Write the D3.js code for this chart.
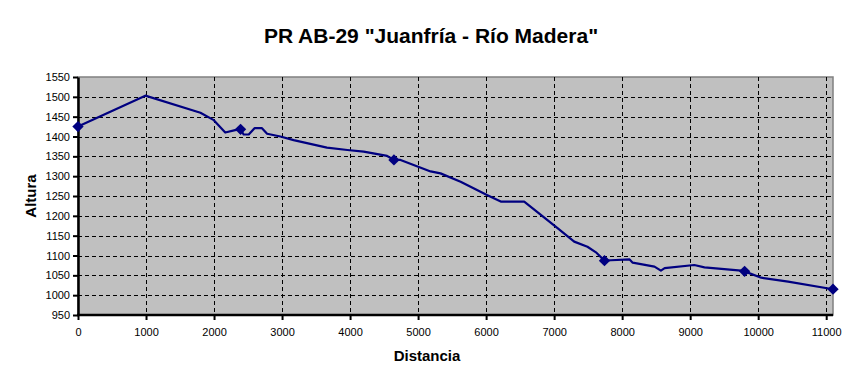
<!DOCTYPE html>
<html>
<head>
<meta charset="utf-8">
<script src="https://cdn.jsdelivr.net/npm/d3@7"></script>
<style>
  body { margin: 0; background: #fff; }
  text { font-family: "Liberation Sans", Arial, sans-serif; }
</style>
</head>
<body>
<div id="chart"></div>
<script>

// perfil: distancia (m) / altura (m)
const distancia = [0, 990, 1800, 1990, 2165, 2310, 2390, 2435, 2510, 2595, 2705, 2780, 2975, 3170,
  3660, 3960, 4200, 4545, 4645, 4742, 5184, 5330, 5625, 6020, 6215, 6560, 7050, 7295, 7490,
  7615, 7740, 7835, 8110, 8155, 8475, 8570, 8625, 9060, 9210, 9750, 9800, 10045, 10440, 11100]
const altura = [1425, 1503, 1460, 1442, 1410, 1416, 1418, 1405, 1405, 1421, 1421, 1407, 1400, 1391,
  1372, 1366, 1362, 1351, 1341, 1341, 1312, 1307, 1286, 1252, 1236, 1236, 1169, 1135, 1122,
  1108, 1087, 1088, 1090, 1082, 1072, 1062, 1068, 1076, 1070, 1062, 1060, 1044, 1034, 1015]

// puntos marcados
const puntoDist = [0, 2390, 4645, 7740, 9800, 11100]
const puntoAlt = [1425, 1418, 1341, 1087, 1060, 1015]

const xTicks = [0, 1000, 2000, 3000, 4000, 5000, 6000, 7000, 8000, 9000, 10000, 11000]
const yTicks = [950, 1000, 1050, 1100, 1150, 1200, 1250, 1300, 1350, 1400, 1450, 1500, 1550]

const titulo = 'PR AB-29 "Juanfría - Río Madera"'

let dim = {width: 864, height: 386}
let plot = {left: 78, right: 833, top: 77, bottom: 315}

let svg = d3.select('#chart').append('svg')
    .attr('width', dim.width)
    .attr('height', dim.height)

let x = d3.scaleLinear()
    .domain([0, d3.max(distancia)])
    .range([plot.left, plot.right])

let y = d3.scaleLinear()
    .domain([950, 1550])
    .range([plot.bottom, plot.top])

// fondo gris
svg.append('rect')
    .attr('x', plot.left)
    .attr('y', plot.top)
    .attr('width', plot.right - plot.left)
    .attr('height', plot.bottom - plot.top)
    .attr('fill', '#c0c0c0')
    .attr('stroke', '#808080')
    .attr('stroke-width', 1.5)

// rejilla
svg.append('g')
    .selectAll('line')
    .data(yTicks.slice(1, -1))
    .enter()
    .append('line')
    .attr('x1', plot.left)
    .attr('x2', plot.right)
    .attr('y1', d => Math.round(y(d)) + 0.5)
    .attr('y2', d => Math.round(y(d)) + 0.5)
    .attr('stroke', '#000')
    .attr('stroke-dasharray', '4,3')

svg.append('g')
    .selectAll('line')
    .data(xTicks.slice(1))
    .enter()
    .append('line')
    .attr('y1', plot.top)
    .attr('y2', plot.bottom)
    .attr('x1', d => Math.round(x(d)) + 0.5)
    .attr('x2', d => Math.round(x(d)) + 0.5)
    .attr('stroke', '#000')
    .attr('stroke-dasharray', '4,3')

// ejes
let axisX = d3.axisBottom(x).tickValues(xTicks).tickFormat(d3.format('d'))
    .tickSize(5).tickSizeOuter(0).tickPadding(8)
let axisY = d3.axisLeft(y).tickValues(yTicks).tickFormat(d3.format('d'))
    .tickSize(5).tickSizeOuter(0).tickPadding(3)

let gx = svg.append('g')
    .attr('transform', `translate(0,${plot.bottom})`)
    .call(axisX)
let gy = svg.append('g')
    .attr('transform', `translate(${plot.left},0)`)
    .call(axisY)

for (let g of [gx, gy]) {
  g.select('.domain').attr('stroke-width', 2.5)
  g.selectAll('.tick line').attr('stroke-width', 2)
  g.selectAll('.tick text').attr('font-size', 11).attr('font-family', '"Liberation Sans", Arial, sans-serif').attr('fill', '#000')
}
gx.select('.domain').attr('d', `M${plot.left - 1},0H${plot.right}`)

// linea del perfil
let perfil = distancia.map((d, i) => [d, altura[i]])

svg.append('path')
    .datum(perfil)
    .attr('fill', 'none')
    .attr('stroke', '#000080')
    .attr('stroke-width', 2.2)
    .attr('stroke-linejoin', 'round')
    .attr('d', d3.line().x(d => x(d[0])).y(d => y(d[1])))

// marcadores
svg.append('g')
    .selectAll('path')
    .data(puntoDist)
    .enter()
    .append('path')
    .attr('transform', (d, i) => `translate(${x(d)},${y(puntoAlt[i])}) rotate(45)`)
    .attr('d', 'M-4,-4H4V4H-4Z')
    .attr('fill', '#000080')

// textos
svg.append('text')
    .attr('x', 431)
    .attr('y', 43)
    .attr('text-anchor', 'middle')
    .attr('font-size', 21)
    .attr('font-weight', 'bold')
    .text(titulo)

svg.append('text')
    .attr('transform', `translate(36,${(plot.top + plot.bottom) / 2}) rotate(-90)`)
    .attr('text-anchor', 'middle')
    .attr('font-size', 15)
    .attr('font-weight', 'bold')
    .text('Altura')

svg.append('text')
    .attr('x', 427)
    .attr('y', 361)
    .attr('text-anchor', 'middle')
    .attr('font-size', 15)
    .attr('font-weight', 'bold')
    .text('Distancia')

</script>
</body>
</html>
